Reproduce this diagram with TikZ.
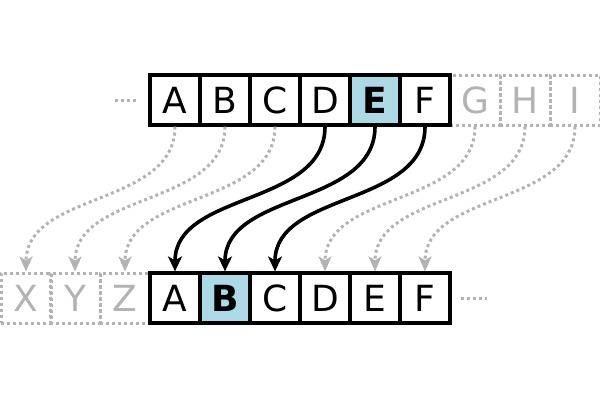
\documentclass[tikz,border=0pt]{standalone}
\usepackage{fontspec}
\setmainfont{DejaVu Sans}
\usetikzlibrary{arrows.meta}
\definecolor{ghost}{RGB}{179,179,179}
\definecolor{hl}{RGB}{173,216,230}
\begin{document}
\begin{tikzpicture}[x=1pt,y=-1pt,
  cell/.style={draw=black, line width=3.2pt, minimum width=50pt, minimum height=50pt, inner sep=0pt, fill=white, font=\fontsize{36}{40}\selectfont},
  hlcell/.style={cell, fill=hl, font=\fontsize{36}{40}\selectfont\bfseries},
  ghostcell/.style={draw=ghost, line width=3pt, dash pattern=on 3pt off 3pt, minimum width=50pt, minimum height=50pt, inner sep=0pt, text=ghost, font=\fontsize{36}{40}\selectfont},
  ghostline/.style={draw=ghost, line width=3pt, dash pattern=on 3pt off 3pt},
  ghostarrow/.style={ghostline, -{Stealth[length=15pt,width=13pt,inset=4pt]}},
  mainarrow/.style={draw=black, line width=3.6pt, -{Stealth[length=15pt,width=14pt,inset=4pt]}}
]
\useasboundingbox (0,0) rectangle (600,400);
% ghost cells
\node[ghostcell] (tG) at (475,100) {G};
\node[ghostcell] (tH) at (525,100) {H};
\node[ghostcell] (tI) at (575,100) {I};
\node[ghostcell] (bX) at (26,298) {X};
\node[ghostcell] (bY) at (75,298) {Y};
\node[ghostcell] (bZ) at (125,298) {Z};
% top row
\node[cell] (t1) at (175,100) {A};
\node[cell] (t2) at (225,100) {B};
\node[cell] (t3) at (275,100) {C};
\node[cell] (t4) at (325,100) {D};
\node[hlcell] (t5) at (375,100) {E};
\node[cell] (t6) at (425,100) {F};
% bottom row
\node[cell] (b1) at (175,298) {A};
\node[hlcell] (b2) at (225,298) {B};
\node[cell] (b3) at (275,298) {C};
\node[cell] (b4) at (325,298) {D};
\node[cell] (b5) at (375,298) {E};
\node[cell] (b6) at (425,298) {F};
% ellipsis dots
\coordinate (ldA) at (115,100);
\coordinate (ldB) at (138,100);
\coordinate (rdA) at (461,298);
\coordinate (rdB) at (487,298);
\draw[ghostline] (ldA) -- (ldB);
\draw[ghostline] (rdA) -- (rdB);
% ghost arrows
\foreach \s/\t in {t1/bX, t2/bY, t3/bZ, tG/b4, tH/b5, tI/b6}
  \draw[ghostarrow] (\s.south) .. controls +(0,80) and +(0,-80) .. (\t.north);
% main arrows
\foreach \s/\t in {t4/b1, t5/b2, t6/b3}
  \draw[mainarrow] (\s.south) .. controls +(0,80) and +(0,-80) .. (\t.north);
\end{tikzpicture}
\end{document}
